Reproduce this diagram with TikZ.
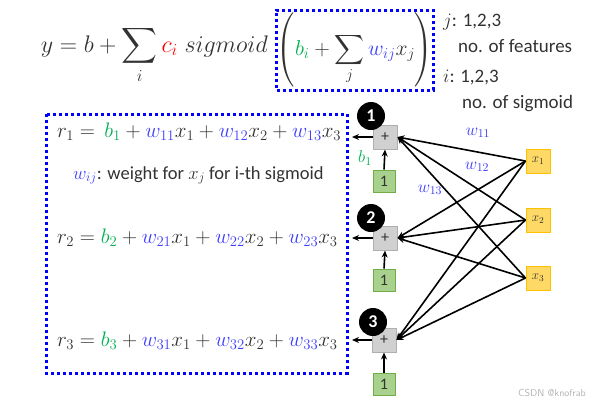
\RequirePackage{fix-cm}
\documentclass[tikz,border=0pt]{standalone}
\usepackage{amsmath}
\usepackage{fontspec}
\setmainfont{Carlito}
\usetikzlibrary{arrows.meta}
\definecolor{wblue}{RGB}{60,60,255}
\definecolor{bgreen}{RGB}{0,176,80}
\definecolor{dgray}{RGB}{50,50,50}
\definecolor{pfill}{RGB}{208,208,208}
\definecolor{pdraw}{RGB}{175,175,175}
\definecolor{gfill}{RGB}{169,209,142}
\definecolor{gdraw}{RGB}{112,173,71}
\definecolor{yfill}{RGB}{255,217,102}
\definecolor{ydraw}{RGB}{255,192,0}
\definecolor{fblue}{RGB}{0,0,255}
\newcommand{\wc}[1]{{\color{wblue}w_{#1}}}
\newcommand{\bc}[1]{{\color{bgreen}b_{#1}}}
\begin{document}
\begin{tikzpicture}[x=1pt,y=-1pt,
  dotframe/.style={draw=fblue, line width=3pt, dash pattern=on 3pt off 3pt},
  plusbox/.style={draw=pdraw, fill=pfill, line width=1pt, minimum size=24pt, inner sep=0pt, font=\fontsize{16}{16}\selectfont, text=dgray},
  onebox/.style={draw=gdraw, fill=gfill, line width=1pt, minimum size=22pt, inner sep=0pt, font=\fontsize{16}{16}\selectfont, text=dgray},
  xbox/.style={draw=ydraw, fill=yfill, line width=1pt, minimum size=24pt, inner sep=0pt, font=\fontsize{13}{13}\selectfont, text=dgray},
  numcirc/.style={circle, fill=black, text=white, minimum size=28pt, inner sep=0pt, font=\fontsize{18}{18}\selectfont\bfseries},
  arr/.style={-{Stealth[length=7pt,width=6pt]}, line width=1.6pt},
  lab/.style={font=\fontsize{17}{17}\selectfont},
  eq/.style={font=\fontsize{21}{25}\selectfont, text=dgray, anchor=base west, inner sep=0pt},
  side/.style={font=\fontsize{19}{22}\selectfont, text=dgray, anchor=base west, inner sep=0pt}
]
\useasboundingbox (0,0) rectangle (594,405);

% top formula
\node[font=\fontsize{24}{30}\selectfont, text=dgray, anchor=base east, inner sep=0pt] (fa) at (268,52)
  {$y = b + \displaystyle\sum_i {\color{red}c_i}\; sigmoid$};
\node[dotframe, minimum width=154pt, minimum height=80pt, inner sep=0pt, font=\fontsize{21.5}{29}\selectfont, text=dgray] (fb) at (355,50)
  {$\displaystyle\left( \vrule height 39pt depth 28pt width 0pt \bc{i} + \sum_j \wc{ij} x_j \right)$};

\node[side] (j) at (443,26) {$j$: 1,2,3};
\node[side] (jf) at (458,52) {no. of features};
\node[side] (i) at (443,82) {$i$: 1,2,3};
\node[side] (is) at (462,108) {no. of sigmoid};

% left frame
\draw[dotframe] (46,114) rectangle (347,373);

\node[eq] (r1) at (57,137) {$r_1 = \, \bc{1} + \wc{11}x_1 + \wc{12}x_2 + \wc{13}x_3$};
\node[font=\fontsize{18.5}{21}\selectfont, text=dgray, anchor=base west, inner sep=0pt] (wij) at (73,179) {$\wc{ij}$: weight for $x_j$ for i-th sigmoid};
\node[eq] (r2) at (57,243) {$r_2 = \bc{2} + \wc{21}x_1 + \wc{22}x_2 + \wc{23}x_3$};
\node[eq] (r3) at (57,346) {$r_3 = \bc{3} + \wc{31}x_1 + \wc{32}x_2 + \wc{33}x_3$};

% network
\node[plusbox] (p1) at (385,137) {+};
\node[plusbox] (p2) at (385,238) {+};
\node[plusbox] (p3) at (384,340) {+};
\node[numcirc] (c1) at (371,116) {1};
\node[numcirc] (c2) at (371,218) {2};
\node[numcirc] (c3) at (373,322) {3};
\node[onebox] (g1) at (384,181) {1};
\node[onebox] (g2) at (384,280) {1};
\node[onebox] (g3) at (384,384) {1};
\node[xbox] (x1) at (538,161) {$x_1$};
\node[xbox] (x2) at (538,220) {$x_2$};
\node[xbox] (x3) at (538,278) {$x_3$};

\coordinate (o1) at (352,137);
\coordinate (o2) at (352,238);
\coordinate (o3) at (352,340);
\foreach \k in {1,2,3}{
  \draw[arr] (p\k.west) -- (o\k);
  \draw[arr] (g\k.north) -- (p\k.south);
  \foreach \m in {1,2,3}{
    \draw[arr] (x\m.west) -- (p\k.east);
  }
}

\node[lab] (l11) at (478,133) {$\wc{11}$};
\node[lab] (l12) at (477,167) {$\wc{12}$};
\node[lab] (l13) at (430,190) {$\wc{13}$};
\node[lab] (lb1) at (365,158) {$\bc{1}$};

\node[font=\fontsize{10}{12}\selectfont\sffamily, text=gray!60] (wm) at (552,393) {CSDN @knofrab};
\end{tikzpicture}
\end{document}
